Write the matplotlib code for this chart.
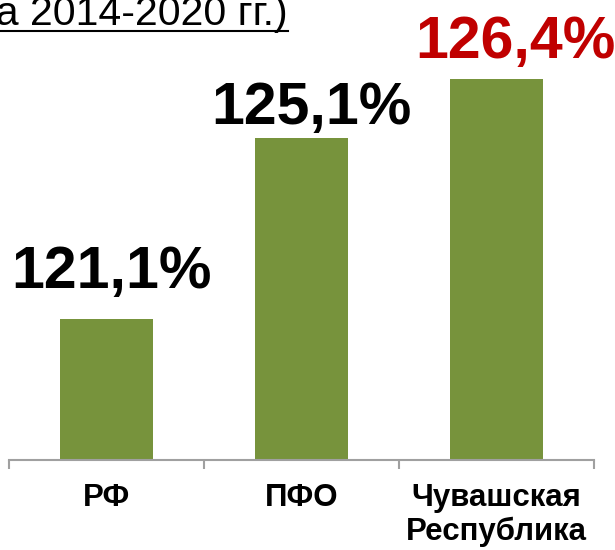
import matplotlib
matplotlib.use("Agg")
import matplotlib.pyplot as plt
from matplotlib.lines import Line2D

plt.rcParams['font.family'] = ['Liberation Sans', 'DejaVu Sans']

categories = ["РФ", "ПФО", "Чувашская\nРеспублика"]
values = [121.1, 125.1, 126.4]
value_labels = ["121,1%", "125,1%", "126,4%"]
label_colors = ["#000000", "#000000", "#C00000"]
title_text = "за 2014-2020 гг.)"

# layout: label offsets in pixels (dx, dy) relative to bar top center
label_offsets = [(4.5, 31), (10, 14), (18.5, 21)]

W, H = 615, 550
fig = plt.figure(figsize=(W / 100, H / 100), dpi=100)
left, right = 9 / W, 594 / W
bottom, top = (H - 459.5) / H, (H - 51.8) / H
ax = fig.add_axes([left, bottom, right - left, top - bottom])

x = list(range(len(categories)))
ax.bar(x, values, width=0.477, color="#77933C", zorder=2)
ax.set_ylim(118, 127)
ax.set_xlim(-0.5, len(categories) - 0.5)

for i, (v, lab, c, off) in enumerate(zip(values, value_labels, label_colors, label_offsets)):
    ax.annotate(lab, xy=(i, v), xytext=off, textcoords="offset pixels",
                ha="center", va="baseline", fontsize=42.5, fontweight="bold", color=c)

for s in ["left", "top", "right"]:
    ax.spines[s].set_visible(False)
ax.spines["bottom"].set_color("#A0A0A0")
ax.spines["bottom"].set_linewidth(1.5)
ax.set_yticks([])

ax.set_xticks([-0.5, 0.5, 1.5, 2.5])
ax.set_xticklabels([])
ax.tick_params(axis="x", which="major", length=6.5, width=1.5, color="#A0A0A0")
ax.set_xticks(x, minor=True)
ax.set_xticklabels(categories, minor=True, fontsize=22.5, fontweight="bold", linespacing=1.14)
ax.tick_params(axis="x", which="minor", length=0, pad=17)

fig.text(288 / W, 1 - 25 / H, title_text, ha="right", va="baseline", fontsize=29.5, color="#000000")
fig.add_artist(Line2D([0, 288 / W], [1 - 31 / H, 1 - 31 / H], color="#000000", linewidth=1.5,
                      transform=fig.transFigure))

fig.savefig("out.png", dpi=100)
